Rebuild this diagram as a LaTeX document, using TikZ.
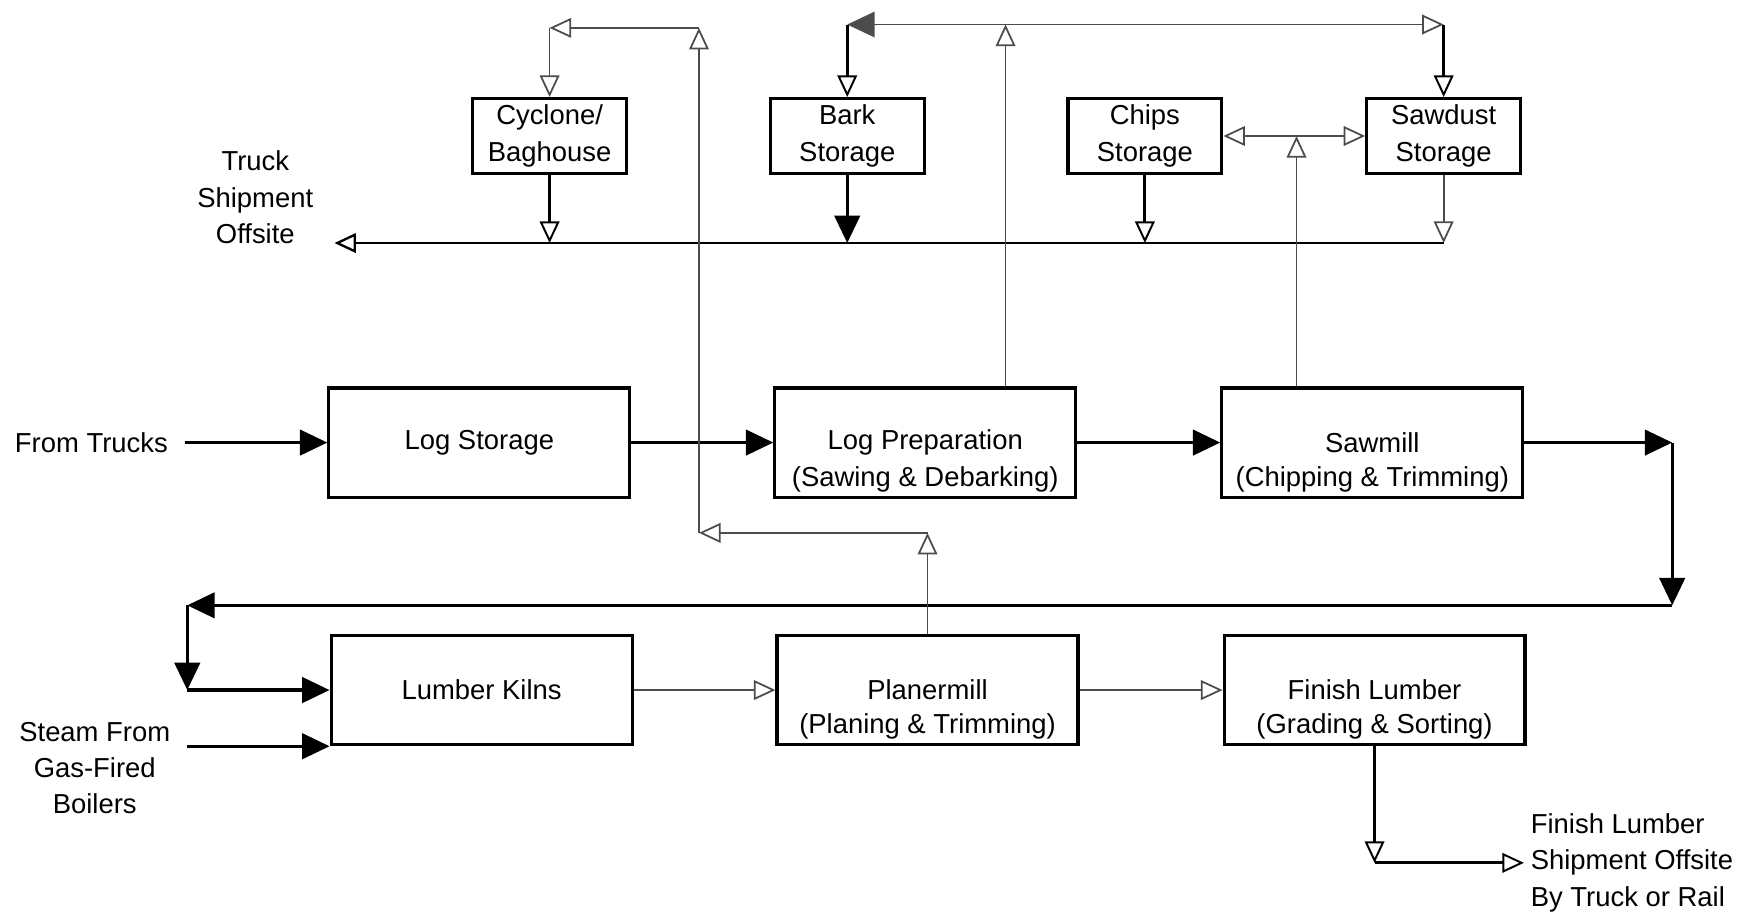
\documentclass[tikz,border=0pt]{standalone}
\usepackage{fontspec}
\setmainfont{Liberation Sans}
\usetikzlibrary{arrows.meta}

\tikzset{
  procbox/.style={draw, line width=1.6pt, minimum width=5.4cm, minimum height=1.96cm, align=center},
  storebox/.style={draw, line width=1.6pt, minimum width=2.76cm, minimum height=1.32cm, align=center},
  subline/.style={label distance=-20pt},
  lbl/.style={align=center},
  feed/.style={line width=1.6pt, -{Triangle[length=14pt,width=13pt]}},
  feedopen/.style={line width=1.6pt, -{Triangle[open,length=11pt,width=10pt,line width=1pt]}},
  waste/.style={line width=0.9pt, black!70, -{Triangle[open,length=11pt,width=10pt]}},
}

\begin{document}
\begin{tikzpicture}[x=0.02cm, y=-0.02cm, font=\fontsize{14}{18.5}\selectfont]
  \useasboundingbox (0,0) rectangle (1568,820);
  % storage bins along the top
  \node[storebox] (cyc)     at (493,122)  {Cyclone/\\Baghouse};
  \node[storebox] (bark)    at (760,122)  {Bark\\Storage};
  \node[storebox] (chips)   at (1027,122) {Chips\\Storage};
  \node[storebox] (sawdust) at (1295,122) {Sawdust\\Storage};
  % process boxes
  \node[procbox] (logst) at (430,397) {Log Storage};
  \node[procbox, label={[subline]below:{(Sawing \& Debarking)}}] (prep) at (830,397) {Log Preparation};
  \node[procbox, label={[subline]below:{(Chipping \& Trimming)}}] (sawmill) at (1231,397) {Sawmill};
  \node[procbox] (kilns) at (432,619) {Lumber Kilns};
  \node[procbox, label={[subline]below:{(Planing \& Trimming)}}] (planer) at (832,619) {Planermill};
  \node[procbox, label={[subline]below:{(Grading \& Sorting)}}] (finish) at (1233,619) {Finish Lumber};
  % outside labels
  \node[lbl] (truck) at (229,177) {Truck\\Shipment\\Offsite};
  \node (fromtrucks) at (82,397) {From Trucks};
  \node[lbl] (steam) at (85,689) {Steam From\\Gas-Fired\\Boilers};
  \node[align=left, anchor=west] (ship) at (1367,774) {Finish Lumber\\Shipment Offsite\\By Truck or Rail};

  % main log flow
  \coordinate (r1) at (1500,397);
  \coordinate (r2) at (1500,543);
  \coordinate (r3) at (168,543);
  \coordinate (r4) at (168,619);
  \draw[feed, shorten <=5pt] (fromtrucks) -- (logst);
  \draw[feed] (logst) -- (prep);
  \draw[feed] (prep) -- (sawmill);
  \draw[feed] (sawmill) -- (r1);
  \draw[feed] (r1) -- (r2);
  \draw[feed] (r2) -- (r3);
  \draw[feed] (r3) -- (r4);
  \draw[feed] (r4) -- (kilns);
  \draw[feed] (kilns.south west -| r3) -- (kilns.south west);
  \draw[waste] (kilns) -- (planer);
  \draw[waste] (planer) -- (finish);
  \coordinate (f1) at (finish.south |- ship.west);
  \draw[feedopen] (finish) -- (f1);
  \draw[feedopen] (f1) -- (ship.west);

  % truck shipment line
  \coordinate (tl) at (300,218);
  \coordinate (sw) at (sawdust |- tl);
  \draw[feedopen] (cyc) -- (cyc |- tl);
  \draw[feed] (bark) -- (bark |- tl);
  \draw[feedopen] (chips) -- (chips |- tl);
  \draw[waste] (sawdust) -- (sw);
  \draw[waste, line width=1.2pt, black] (sw) -- (tl);

  % planermill back to cyclone
  \coordinate (pl1) at (832,478);
  \coordinate (pl2) at (627,478);
  \coordinate (pl3) at (627,25);
  \coordinate (pl4) at (493,25);
  \draw[waste] (planer) -- (pl1);
  \draw[waste] (pl1) -- (pl2);
  \draw[waste] (pl2) -- (pl3);
  \draw[waste] (pl3) -- (pl4);
  \draw[waste] (pl4) -- (cyc);

  % log preparation to bark and sawdust
  \coordinate (pj) at (902,22);
  \draw[waste] (prep.north -| pj) -- (pj);
  \draw[waste, -{Triangle[length=14pt,width=13pt]}] (pj) -- (bark |- pj);
  \draw[feedopen] (bark |- pj) -- (bark);
  \draw[waste] (pj) -- (sawdust |- pj);
  \draw[feedopen] (sawdust |- pj) -- (sawdust);

  % sawmill to chips and sawdust
  \coordinate (sj) at (1163,122);
  \draw[waste] (sawmill.north -| sj) -- (sj);
  \draw[waste] (sj) -- (chips);
  \draw[waste] (sj) -- (sawdust);
\end{tikzpicture}
\end{document}
